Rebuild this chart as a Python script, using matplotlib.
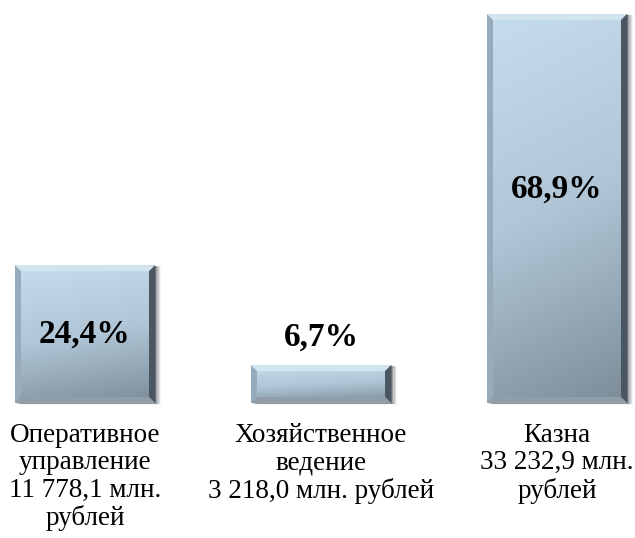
import numpy as np
import matplotlib.pyplot as plt
from matplotlib.colors import LinearSegmentedColormap
from matplotlib.patches import Polygon, Rectangle

plt.rcParams['font.family'] = 'serif'
plt.rcParams['font.serif'] = ['Liberation Serif', 'Times New Roman', 'DejaVu Serif']

categories = ['Оперативное\nуправление\n11 778,1 млн.\nрублей',
              'Хозяйственное\nведение\n3 218,0 млн. рублей',
              'Казна\n33 232,9 млн.\nрублей']
shares = [24.4, 6.7, 68.9]
share_labels = ['24,4%', '6,7%', '68,9%']

W, H = 635, 538
fig = plt.figure(figsize=(W / 100, H / 100), dpi=100)
ax = fig.add_axes([0, 0, 1, 1])

# pixel scale: 236 px between bar centres, 389 px for the tallest bar
px_x = 1 / 236
px_y = 68.9 / 389
ax.set_xlim(-85 * px_x, (W - 85) * px_x)
ax.set_ylim(-135 * px_y, (H - 135) * px_y)
ax.axis('off')

x = np.arange(len(shares))
bars = ax.bar(x, shares, width=140 * px_x, color='none', zorder=3)

cmap = LinearSegmentedColormap.from_list('bar', ['#c6ddee', '#b0c6d6', '#7c8c99'])
bev = 6

for b in bars:
    x0, y0 = b.get_x(), b.get_y()
    w, h = b.get_width(), b.get_height()
    x1, y1 = x0 + w, y0 + h

    # soft shadow on the right/bottom
    for k, a in zip(range(1, 6), [0.35, 0.25, 0.16, 0.09, 0.05]):
        ax.add_patch(Rectangle((x0 + k * px_x * 1.2, y0 - k * px_y * 0.3), w, h,
                               color='#202830', alpha=a, lw=0, zorder=1))

    # gradient body
    yy = np.linspace(0, 1, 200)[:, None]
    xx = np.linspace(0, 1, 60)[None, :]
    grad = 0.85 * yy + 0.15 * xx
    im = ax.imshow(grad, cmap=cmap, extent=[x0, x1, y0, y1], origin='upper',
                   aspect='auto', zorder=2, vmin=0, vmax=1)
    im.set_clip_path(b)

    bx, by = bev * px_x, bev * px_y
    # bevels
    ax.add_patch(Polygon([(x0, y1), (x1, y1), (x1 - bx, y1 - by), (x0 + bx, y1 - by)],
                         color='#d3e4f1', lw=0, zorder=4))
    ax.add_patch(Polygon([(x0, y0), (x0, y1), (x0 + bx, y1 - by), (x0 + bx, y0 + by)],
                         color='#97abba', lw=0, zorder=4))
    ax.add_patch(Polygon([(x1, y0), (x1, y1), (x1 - bx, y1 - by), (x1 - bx, y0 + by)],
                         color='#4a5761', lw=0, zorder=4))
    ax.add_patch(Polygon([(x0, y0), (x1, y0), (x1 - bx, y0 + by), (x0 + bx, y0 + by)],
                         color='#909eaa', lw=0, zorder=4))

# percentage labels
for i, (v, lab) in enumerate(zip(shares, share_labels)):
    if v > 40:
        ypos = v * 0.55
    elif v > 15:
        ypos = v / 2
    else:
        ypos = v + 28 * px_y
    ax.text(i, ypos, lab, ha='center', va='center', fontsize=24,
            fontweight='bold', zorder=5)

# category labels
for i, c in enumerate(categories):
    ax.text(i, -20 * px_y, c, ha='center', va='top', fontsize=19.5,
            linespacing=1.12, zorder=5)

fig.savefig('out.png', dpi=100, facecolor='white')
